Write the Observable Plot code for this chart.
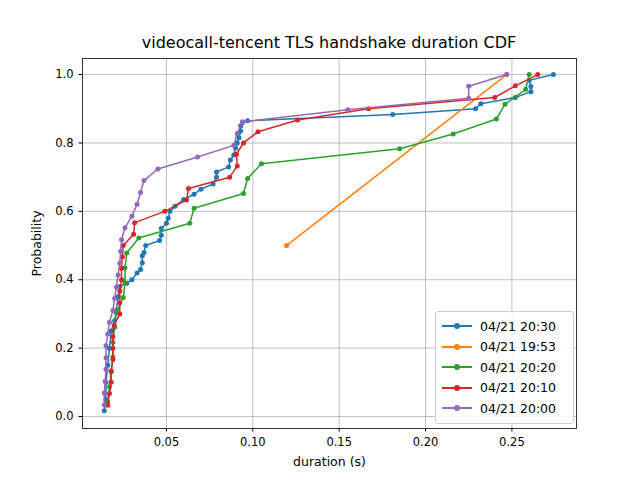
<!DOCTYPE html>
<html><head><meta charset="utf-8">
<script src="https://cdn.jsdelivr.net/npm/d3@7"></script>
<script src="https://cdn.jsdelivr.net/npm/@observablehq/plot@0.6"></script>
<style>
body{margin:0;font-family:"DejaVu Sans",sans-serif;background:#fff}
#wrap{position:relative;width:640px;height:480px}
#title{position:absolute;left:82px;width:494px;top:33px;text-align:center;font-size:16px}
#chart{position:absolute;left:0;top:30px}
#legend{position:absolute;left:435px;top:311px;width:125px;padding:4px 6px;border:1px solid #ccc;border-radius:3px;background:rgba(255,255,255,0.85);font-size:12.5px}
.row{display:flex;align-items:center;height:20.5px}
.sw{position:relative;width:30px;height:10px;margin-right:8px}
.sw i{position:absolute;left:0;top:4px;width:30px;height:2px}
.sw b{position:absolute;left:12px;top:2px;width:6px;height:6px;border-radius:50%}
svg g[aria-label="x-axis label"] text, svg g[aria-label="y-axis label"] text{font-size:12.5px}
</style></head><body>
<div id="wrap"><div id="title">videocall-tencent TLS handshake duration CDF</div><div id="chart"></div><div id="legend"></div></div>
<script>
const seriesNames = ["04/21 20:30","04/21 19:53","04/21 20:20","04/21 20:10","04/21 20:00"];
const colors = ["#1f77b4","#ff7f0e","#2ca02c","#d62728","#9467bd"];
const blueDur = [0.014,0.015,0.015,0.016,0.017,0.018,0.020,0.021,0.022,0.023,0.027,0.030,0.033,0.035,0.036,0.036,0.037,0.038,0.046,0.047,0.047,0.050,0.051,0.052,0.055,0.060,0.066,0.070,0.077,0.079,0.079,0.086,0.087,0.089,0.090,0.091,0.092,0.093,0.093,0.094,0.097,0.181,0.229,0.232,0.252,0.261,0.261,0.260,0.274];
const blueP = [0.017,0.05,0.1,0.15,0.2,0.25,0.28,0.31,0.35,0.38,0.39,0.40,0.42,0.43,0.45,0.47,0.48,0.50,0.515,0.53,0.55,0.565,0.58,0.60,0.615,0.635,0.65,0.665,0.68,0.70,0.715,0.73,0.75,0.765,0.785,0.80,0.815,0.835,0.85,0.86,0.865,0.883,0.90,0.915,0.933,0.95,0.965,0.983,1.0];
const orangeDur = [0.1195,0.247];
const orangeP = [0.5,1.0];
const greenDur = [0.016,0.017,0.018,0.019,0.019,0.020,0.021,0.025,0.026,0.026,0.027,0.034,0.0635,0.066,0.0946,0.097,0.105,0.185,0.216,0.241,0.246,0.258,0.260];
const greenP = [0.043,0.087,0.13,0.174,0.217,0.261,0.304,0.348,0.391,0.435,0.478,0.522,0.565,0.609,0.652,0.696,0.739,0.783,0.826,0.87,0.913,0.957,1.0];
const redDur = [0.016,0.017,0.018,0.018,0.019,0.019,0.019,0.0197,0.023,0.023,0.023,0.024,0.024,0.0245,0.025,0.031,0.0316,0.049,0.0616,0.0628,0.0866,0.091,0.0905,0.0946,0.103,0.126,0.167,0.240,0.252,0.265];
const redP = [0.033,0.067,0.1,0.133,0.167,0.2,0.233,0.267,0.3,0.333,0.367,0.4,0.433,0.467,0.5,0.533,0.567,0.6,0.633,0.667,0.7,0.733,0.767,0.8,0.833,0.867,0.9,0.933,0.967,1.0];
const purpleDur = [0.014,0.014,0.0145,0.015,0.015,0.015,0.016,0.017,0.019,0.020,0.021,0.022,0.023,0.0235,0.024,0.026,0.030,0.033,0.035,0.037,0.045,0.068,0.089,0.091,0.094,0.155,0.225,0.225,0.247];
const purpleP = [0.034,0.069,0.103,0.138,0.172,0.207,0.241,0.276,0.31,0.345,0.379,0.414,0.448,0.483,0.517,0.552,0.586,0.621,0.655,0.69,0.724,0.759,0.793,0.828,0.862,0.897,0.931,0.966,1.0];
const xTicks = [0.05,0.10,0.15,0.20,0.25];
const yTicks = [0.0,0.2,0.4,0.6,0.8,1.0];

const all = [[blueDur,blueP],[orangeDur,orangeP],[greenDur,greenP],[redDur,redP],[purpleDur,purpleP]];
const data = [];
all.forEach(([d,p],s)=>d.forEach((v,i)=>data.push({s:seriesNames[s],x:v,y:p[i]})));

const marks = [
  Plot.gridX(xTicks,{stroke:"#b0b0b0",strokeOpacity:1,strokeWidth:0.8}),
  Plot.gridY(yTicks,{stroke:"#b0b0b0",strokeOpacity:1,strokeWidth:0.8}),
  Plot.frame({stroke:"#000",strokeWidth:0.8}),
  Plot.axisX({ticks:xTicks,tickFormat:d3.format(".2f"),tickSize:3.5,fontSize:11.5,label:"duration (s)",labelAnchor:"center",labelArrow:"none",labelOffset:37}),
  Plot.axisY({ticks:yTicks,tickFormat:d3.format(".1f"),tickSize:3.5,fontSize:11.5,label:"Probability",labelAnchor:"center",labelArrow:"none",labelOffset:50}),
];
seriesNames.forEach((n,s)=>{
  const sub = data.filter(d=>d.s===n);
  marks.push(Plot.line(sub,{x:"x",y:"y",stroke:colors[s],strokeWidth:1.5}));
  marks.push(Plot.dot(sub,{x:"x",y:"y",fill:colors[s],r:2.5,stroke:"none"}));
});
const chart = Plot.plot({
  width:640,height:450,marginTop:28,marginBottom:52,marginLeft:82,marginRight:64,
  style:{fontFamily:"DejaVu Sans",fontSize:"11.5px",color:"#000",background:"transparent"},
  x:{domain:[0.0014,0.2874]},
  y:{domain:[-0.035,1.047]},
  marks
});
document.getElementById("chart").appendChild(chart);
const lg=document.getElementById("legend");
seriesNames.forEach((n,s)=>{
  lg.innerHTML+=`<div class="row"><span class="sw"><i style="background:${colors[s]}"></i><b style="background:${colors[s]}"></b></span>${n}</div>`;
});
</script></body></html>
